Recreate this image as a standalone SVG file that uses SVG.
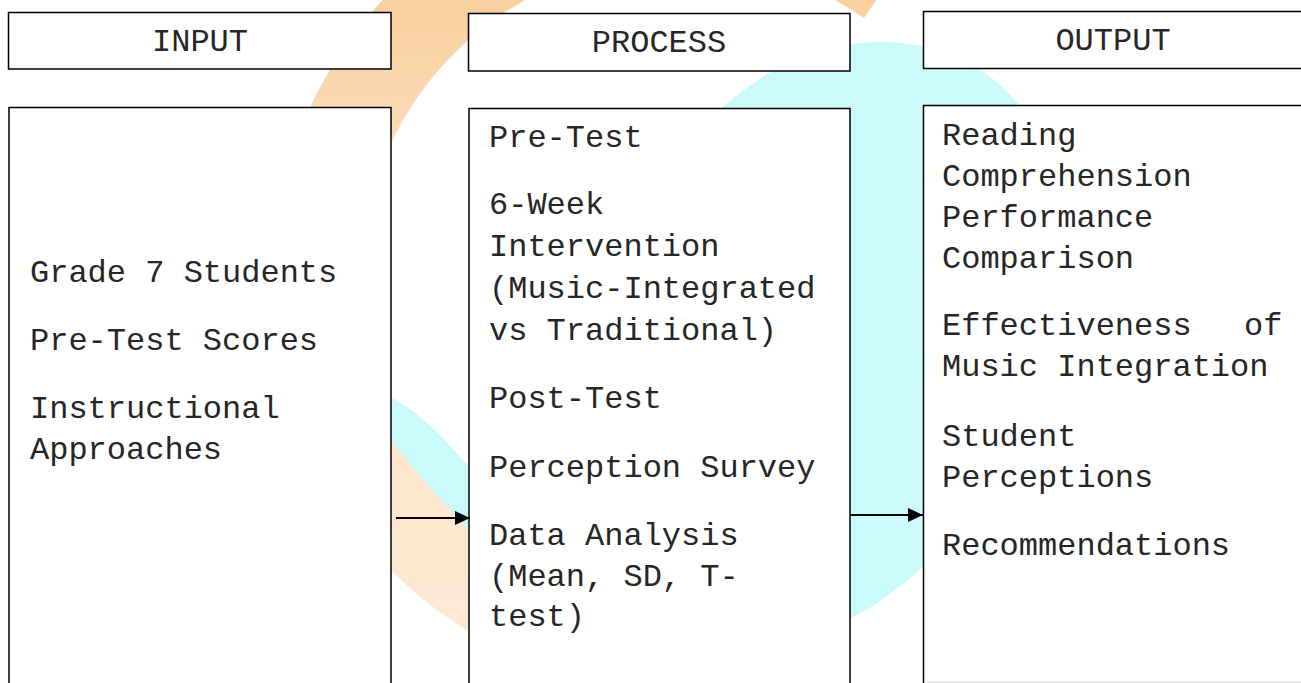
<svg xmlns="http://www.w3.org/2000/svg" width="1301" height="683" viewBox="0 0 1301 683">
  <defs>
    <linearGradient id="orangeGrad" x1="0" y1="0" x2="0" y2="1" gradientUnits="objectBoundingBox">
      <stop offset="0" stop-color="#F7C483"/>
      <stop offset="0.35" stop-color="#FBDDBA"/>
      <stop offset="1" stop-color="#FDEAD6"/>
    </linearGradient>
    <marker id="arrow" markerUnits="userSpaceOnUse" markerWidth="16" markerHeight="15" refX="15" refY="7" orient="auto">
      <path d="M0,0 L15,7 L0,14 Z" fill="#000"/>
    </marker>
    <style>
      .box { fill: #ffffff; stroke: #000000; stroke-width: 1.5; }
      .t { font-family: "Liberation Mono", "Courier New", monospace; font-size: 32px; fill: #262626; }
      .hc { text-anchor: middle; }
      .conn { stroke: #000000; stroke-width: 2; fill: none; }
    </style>
  </defs>

  <rect x="0" y="0" width="1301" height="683" fill="#ffffff"/>

  <!-- watermark -->
  <g id="watermark">
    <path d="M 915 -56 A 410 410 0 1 0 507 652 L 545 570 A 320 320 0 1 1 864 18 Z" fill="url(#orangeGrad)"/>
    <path d="M 345 388 C 400 384, 440 436, 469 466 C 560 400, 640 180, 723 107 C 765 70, 810 48, 850 44 C 960 30, 1040 90, 1060 200 C 1080 330, 1010 480, 923 567 C 890 595, 870 610, 850 618 C 700 670, 540 620, 469 530 C 430 490, 400 450, 345 388 Z" fill="#CBFAFB"/>
  </g>

  <!-- header boxes -->
  <g id="input-header">
    <rect class="box" x="8.5" y="12.5" width="382.5" height="56.5"/>
    <text class="t hc" x="200" y="51">INPUT</text>
  </g>
  <g id="process-header">
    <rect class="box" x="468.5" y="13.5" width="381.5" height="57.5"/>
    <text class="t hc" x="659" y="52">PROCESS</text>
  </g>
  <g id="output-header">
    <rect class="box" x="923.5" y="11.5" width="390" height="57"/>
    <text class="t hc" x="1113" y="50">OUTPUT</text>
  </g>

  <!-- content boxes -->
  <g id="input-box">
    <rect class="box" x="9" y="107.5" width="382" height="600"/>
    <text class="t" x="30" y="282">Grade 7 Students</text>
    <text class="t" x="30" y="350">Pre-Test Scores</text>
    <text class="t" x="30" y="418">Instructional</text>
    <text class="t" x="30" y="459">Approaches</text>
  </g>
  <g id="process-box">
    <rect class="box" x="469" y="108.5" width="381" height="600"/>
    <text class="t" x="489" y="147">Pre-Test</text>
    <text class="t" x="489" y="214">6-Week</text>
    <text class="t" x="489" y="256">Intervention</text>
    <text class="t" x="489" y="298">(Music-Integrated</text>
    <text class="t" x="489" y="340">vs Traditional)</text>
    <text class="t" x="489" y="408">Post-Test</text>
    <text class="t" x="489" y="477">Perception Survey</text>
    <text class="t" x="489" y="545">Data Analysis</text>
    <text class="t" x="489" y="586">(Mean, SD, T-</text>
    <text class="t" x="489" y="626">test)</text>
  </g>
  <g id="output-box">
    <rect class="box" x="923.5" y="105.5" width="390" height="600"/>
    <line x1="924" y1="682" x2="1301" y2="682" stroke="#d4d4d4" stroke-width="1"/>
    <text class="t" x="942" y="145">Reading</text>
    <text class="t" x="942" y="186">Comprehension</text>
    <text class="t" x="942" y="227">Performance</text>
    <text class="t" x="942" y="268">Comparison</text>
    <text class="t" x="942" y="335">Effectiveness</text>
    <text class="t" x="1244" y="335">of</text>
    <text class="t" x="942" y="376">Music Integration</text>
    <text class="t" x="942" y="446">Student</text>
    <text class="t" x="942" y="487">Perceptions</text>
    <text class="t" x="942" y="555">Recommendations</text>
  </g>

  <!-- connectors -->
  <g id="connectors">
    <line class="conn" x1="396" y1="518" x2="470" y2="518" marker-end="url(#arrow)"/>
    <line class="conn" x1="850" y1="515" x2="923" y2="515" marker-end="url(#arrow)"/>
  </g>
</svg>
